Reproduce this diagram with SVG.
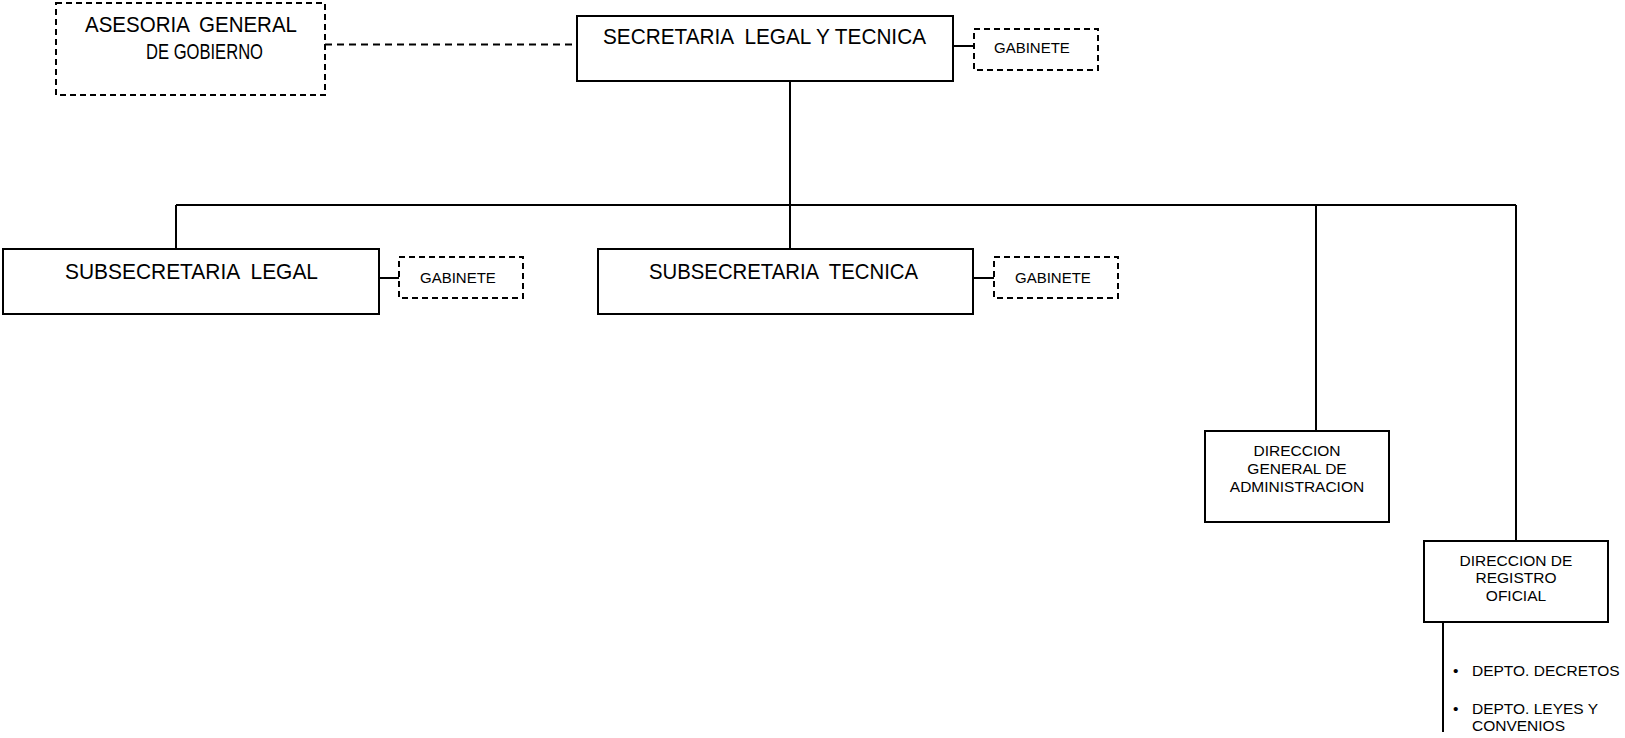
<svg xmlns="http://www.w3.org/2000/svg" width="1625" height="738" viewBox="0 0 1625 738">
<style>
text{font-family:"Liberation Sans",Arial,sans-serif;fill:#000}
.big{font-size:22px}
.sm{font-size:15.5px}
.gab{font-size:15px}
.box{fill:#fff;stroke:#000;stroke-width:2}
.dbox{fill:#fff;stroke:#000;stroke-width:2;stroke-dasharray:6 4}
.ln{fill:none;stroke:#000;stroke-width:2}
.dln{fill:none;stroke:#000;stroke-width:2;stroke-dasharray:7 5}
</style>
<rect width="1625" height="738" fill="#fff"/>
<g id="connectors">
<path class="dln" d="M325 44.5H577"/>
<path class="ln" d="M953 46H974"/>
<path class="ln" d="M790 81V249"/>
<path class="ln" d="M176 205H1516"/>
<path class="ln" d="M176 205V249"/>
<path class="ln" d="M1316 205V431"/>
<path class="ln" d="M1516 205V541"/>
<path class="ln" d="M379 278H399"/>
<path class="ln" d="M973 278H994"/>
<path class="ln" d="M1443 622V732"/>
</g>
<g id="asesoria">
<rect class="dbox" x="56" y="3" width="269" height="92"/>
<text class="big" x="85" y="32" textLength="212" lengthAdjust="spacingAndGlyphs">ASESORIA <tspan dx="5">GENERAL</tspan></text>
<text class="big" x="146" y="59" textLength="117" lengthAdjust="spacingAndGlyphs">DE GOBIERNO</text>
</g>
<g id="secretaria">
<rect class="box" x="577" y="16" width="376" height="65"/>
<text class="big" x="603" y="44" textLength="323" lengthAdjust="spacingAndGlyphs">SECRETARIA <tspan dx="6">LEGAL Y TECNICA</tspan></text>
</g>
<g id="gabinete-secretaria">
<rect class="dbox" x="974" y="29" width="124" height="41"/>
<text class="gab" x="994" y="52.5">GABINETE</text>
</g>
<g id="subsecretaria-legal">
<rect class="box" x="3" y="249" width="376" height="65"/>
<text class="big" x="65" y="278.5" textLength="253" lengthAdjust="spacingAndGlyphs">SUBSECRETARIA <tspan dx="6">LEGAL</tspan></text>
</g>
<g id="gabinete-legal">
<rect class="dbox" x="399" y="257" width="124" height="41"/>
<text class="gab" x="420" y="283">GABINETE</text>
</g>
<g id="subsecretaria-tecnica">
<rect class="box" x="598" y="249" width="375" height="65"/>
<text class="big" x="649" y="278.5" textLength="269" lengthAdjust="spacingAndGlyphs">SUBSECRETARIA <tspan dx="6">TECNICA</tspan></text>
</g>
<g id="gabinete-tecnica">
<rect class="dbox" x="994" y="257" width="124" height="41"/>
<text class="gab" x="1015" y="283">GABINETE</text>
</g>
<g id="direccion-administracion">
<rect class="box" x="1205" y="431" width="184" height="91"/>
<text class="sm" text-anchor="middle" x="1297" y="456">DIRECCION</text>
<text class="sm" text-anchor="middle" x="1297" y="474">GENERAL DE</text>
<text class="sm" text-anchor="middle" x="1297" y="492">ADMINISTRACION</text>
</g>
<g id="direccion-registro">
<rect class="box" x="1424" y="541" width="184" height="81"/>
<text class="sm" text-anchor="middle" x="1516" y="565.5">DIRECCION DE</text>
<text class="sm" text-anchor="middle" x="1516" y="583">REGISTRO</text>
<text class="sm" text-anchor="middle" x="1516" y="601">OFICIAL</text>
</g>
<g id="departamentos">
<text class="sm" x="1453" y="676">•</text>
<text class="sm" x="1472" y="676">DEPTO. DECRETOS</text>
<text class="sm" x="1453" y="714">•</text>
<text class="sm" x="1472" y="714">DEPTO. LEYES Y</text>
<text class="sm" x="1472" y="731">CONVENIOS</text>
</g>
</svg>
